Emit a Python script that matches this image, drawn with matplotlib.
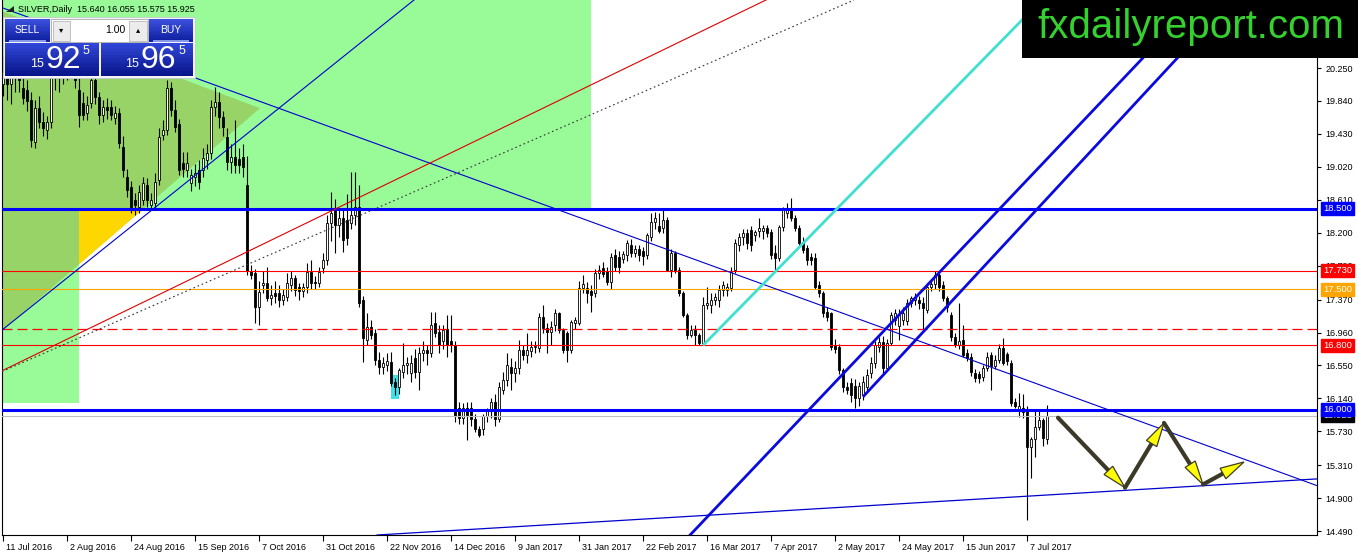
import matplotlib
matplotlib.use("Agg")
import matplotlib.pyplot as plt
from matplotlib.patches import Rectangle, Polygon
from matplotlib.lines import Line2D
from matplotlib.transforms import IdentityTransform, blended_transform_factory, ScaledTranslation
import numpy as np

plt.rcParams['font.family'] = ['Liberation Sans', 'DejaVu Sans']

# ---------------- data ----------------
opens = [
    20.05, 20.25, 20.05, 20.15, 20.25, 20.00, 19.98, 19.85, 19.33, 19.75,
    19.58, 19.48, 19.58, 20.13, 20.30, 20.20, 20.35, 20.40, 20.30, 19.98,
    19.81, 19.69, 19.81, 20.10, 19.89, 19.67, 19.77, 19.77, 19.63, 19.69,
    19.27, 18.90, 18.77, 18.61, 18.52, 18.61, 18.79, 18.55, 18.57, 18.86,
    19.42, 19.48, 20.00, 19.73, 19.55, 19.07, 18.98, 18.82, 18.89, 18.98,
    18.98, 19.11, 19.19, 19.77, 19.83, 19.64, 19.39, 19.08, 19.14, 19.12,
    19.14, 18.80, 17.73, 17.70, 17.28, 17.55, 17.58, 17.39, 17.45, 17.45,
    17.37, 17.40, 17.55, 17.64, 17.52, 17.48, 17.52, 17.71, 17.59, 17.57,
    17.76, 17.86, 18.32, 18.48, 18.30, 18.38, 18.36, 18.32, 18.42, 18.52,
    17.36, 16.87, 17.03, 16.95, 16.62, 16.53, 16.56, 16.59, 16.35, 16.28,
    16.47, 16.55, 16.46, 16.64, 16.47, 16.70, 16.74, 16.70, 17.08, 16.97,
    16.85, 17.00, 16.85, 16.80, 16.02, 15.90, 16.02, 16.02, 15.88, 15.76,
    15.76, 15.92, 15.98, 16.10, 15.88, 16.25, 16.37, 16.53, 16.46, 16.52,
    16.74, 16.68, 16.73, 16.78, 16.77, 17.15, 17.02, 16.97, 17.05, 17.20,
    16.99, 16.95, 16.74, 17.08, 17.08, 17.51, 17.51, 17.48, 17.45, 17.70,
    17.76, 17.73, 17.59, 17.92, 17.90, 17.88, 17.92, 18.05, 17.95, 18.00,
    17.98, 17.92, 18.15, 18.33, 18.28, 18.26, 18.36, 17.74, 17.95, 17.74,
    17.45, 17.18, 16.93, 16.99, 16.93, 16.83, 17.30, 17.30, 17.36, 17.37,
    17.49, 17.49, 17.51, 17.74, 18.05, 18.15, 18.20, 18.24, 18.17, 18.22,
    18.22, 18.26, 18.21, 17.95, 17.89, 18.27, 18.45, 18.48, 18.38, 18.26,
    18.08, 18.01, 17.90, 17.89, 17.55, 17.45, 17.21, 17.20, 16.80, 16.78,
    16.49, 16.28, 16.33, 16.30, 16.15, 16.18, 16.28, 16.46, 16.58, 16.78,
    16.84, 16.52, 16.83, 17.12, 17.04, 17.12, 17.10, 17.33, 17.36, 17.36,
    17.33, 17.24, 17.53, 17.56, 17.67, 17.55, 17.39, 17.18, 16.90, 16.80,
    16.87, 16.70, 16.66, 16.46, 16.44, 16.41, 16.52, 16.68, 16.54, 16.62,
    16.77, 16.69, 16.58, 16.10, 16.00, 16.02, 16.00, 15.54, 15.63, 15.78,
    15.87, 15.64,
]
highs = [
    20.40, 20.50, 20.30, 20.40, 20.35, 20.15, 20.10, 19.95, 19.85, 19.90,
    19.70, 19.65, 20.30, 20.40, 20.45, 20.50, 20.55, 20.60, 20.45, 20.15,
    19.95, 19.90, 20.30, 20.25, 19.95, 19.85, 19.88, 19.85, 19.78, 19.75,
    19.40, 19.00, 18.85, 18.70, 18.80, 18.90, 18.88, 18.70, 18.95, 19.50,
    19.60, 20.10, 20.08, 19.85, 19.62, 19.20, 19.20, 19.00, 19.05, 19.10,
    19.25, 19.30, 19.85, 20.01, 19.95, 19.72, 19.50, 19.30, 19.60, 19.25,
    19.30, 19.15, 17.80, 17.75, 17.60, 17.72, 17.78, 17.55, 17.60, 17.55,
    17.50, 17.70, 17.72, 17.68, 17.58, 17.58, 17.82, 17.86, 17.66, 17.78,
    17.95, 18.42, 18.71, 18.62, 18.50, 18.48, 18.68, 18.96, 18.96, 18.80,
    17.42, 17.20, 17.12, 17.00, 16.72, 16.65, 16.70, 16.72, 16.40, 16.52,
    16.83, 16.65, 16.68, 16.75, 16.78, 16.85, 16.80, 17.22, 17.22, 17.05,
    17.05, 17.18, 17.18, 16.85, 16.10, 16.08, 16.10, 16.10, 15.95, 15.80,
    15.95, 16.02, 16.15, 16.20, 16.35, 16.47, 16.70, 16.64, 16.60, 16.87,
    16.80, 16.95, 16.85, 16.85, 17.20, 17.30, 17.08, 17.10, 17.25, 17.22,
    17.02, 16.98, 17.12, 17.15, 17.60, 17.68, 17.59, 17.55, 17.75, 17.80,
    17.84, 17.78, 17.95, 18.00, 17.98, 17.98, 18.11, 18.12, 18.05, 18.05,
    18.02, 18.20, 18.45, 18.46, 18.45, 18.48, 18.40, 18.00, 17.98, 17.78,
    17.48, 17.20, 17.05, 17.05, 16.96, 17.40, 17.53, 17.45, 17.45, 17.55,
    17.60, 17.58, 17.78, 18.12, 18.20, 18.25, 18.25, 18.28, 18.24, 18.38,
    18.30, 18.30, 18.25, 18.05, 18.30, 18.52, 18.57, 18.63, 18.42, 18.30,
    18.15, 18.05, 17.95, 17.95, 17.60, 17.48, 17.28, 17.22, 16.88, 16.82,
    16.52, 16.35, 16.40, 16.38, 16.35, 16.42, 16.50, 16.65, 16.85, 16.90,
    16.92, 16.88, 17.22, 17.25, 17.25, 17.28, 17.38, 17.42, 17.45, 17.42,
    17.40, 17.58, 17.60, 17.72, 17.72, 17.60, 17.42, 17.22, 16.95, 17.33,
    17.05, 16.75, 16.70, 16.50, 16.48, 16.56, 16.72, 16.72, 16.68, 16.82,
    16.89, 16.72, 16.62, 16.15, 16.21, 16.20, 16.05, 15.66, 16.00, 16.00,
    15.90, 16.055,
]
lows = [
    19.90, 19.85, 19.80, 19.95, 19.95, 19.80, 19.72, 19.27, 19.25, 19.50,
    19.40, 19.37, 19.50, 19.98, 19.95, 20.05, 20.10, 20.20, 20.00, 19.52,
    19.60, 19.60, 19.75, 19.80, 19.55, 19.58, 19.62, 19.60, 19.55, 19.25,
    18.90, 18.65, 18.45, 18.42, 18.45, 18.55, 18.52, 18.48, 18.50, 18.80,
    19.35, 19.42, 19.65, 19.45, 18.92, 18.90, 18.90, 18.72, 18.78, 18.75,
    18.90, 19.00, 19.12, 19.65, 19.50, 19.40, 18.98, 18.95, 18.95, 18.95,
    18.90, 17.68, 17.62, 17.08, 17.05, 17.45, 17.35, 17.30, 17.33, 17.28,
    17.30, 17.35, 17.48, 17.42, 17.36, 17.40, 17.45, 17.50, 17.50, 17.52,
    17.70, 17.80, 18.10, 17.95, 18.15, 17.96, 18.05, 18.25, 18.30, 17.28,
    16.59, 16.80, 16.88, 16.55, 16.45, 16.45, 16.48, 16.30, 16.18, 16.20,
    16.40, 16.45, 16.35, 16.40, 16.25, 16.60, 16.55, 16.65, 16.90, 16.70,
    16.75, 16.66, 16.72, 15.85, 15.82, 15.82, 15.62, 15.80, 15.72, 15.66,
    15.68, 15.85, 15.90, 15.80, 15.85, 16.20, 16.30, 16.25, 16.35, 16.45,
    16.62, 16.58, 16.65, 16.70, 16.72, 16.95, 16.70, 16.80, 16.98, 16.95,
    16.70, 16.59, 16.70, 17.00, 17.05, 17.45, 17.33, 17.21, 17.40, 17.62,
    17.65, 17.55, 17.50, 17.72, 17.70, 17.82, 17.85, 17.90, 17.90, 17.85,
    17.80, 17.88, 18.10, 18.25, 18.20, 18.20, 17.72, 17.65, 17.70, 17.42,
    17.15, 16.88, 16.90, 16.80, 16.80, 16.80, 17.25, 17.20, 17.30, 17.28,
    17.42, 17.42, 17.48, 17.70, 17.98, 18.05, 18.00, 17.98, 18.10, 18.15,
    18.12, 18.15, 17.88, 17.74, 17.85, 18.22, 18.38, 18.35, 18.22, 18.02,
    17.95, 17.80, 17.80, 17.50, 17.40, 17.15, 17.10, 16.74, 16.70, 16.45,
    16.22, 16.20, 16.10, 16.02, 16.05, 16.12, 16.22, 16.40, 16.52, 16.72,
    16.45, 16.48, 16.80, 17.05, 16.87, 17.05, 17.05, 17.28, 17.30, 17.25,
    16.97, 17.20, 17.48, 17.50, 17.48, 17.35, 17.22, 16.85, 16.78, 16.76,
    16.65, 16.60, 16.42, 16.35, 16.33, 16.36, 16.48, 16.25, 16.50, 16.58,
    16.55, 16.55, 16.05, 16.02, 15.91, 15.90, 14.63, 15.15, 15.41, 15.75,
    15.55, 15.575,
]
closes = [
    20.20, 20.05, 20.15, 20.25, 20.10, 19.88, 19.84, 19.35, 19.75, 19.58,
    19.50, 19.58, 20.13, 20.30, 20.20, 20.35, 20.40, 20.30, 20.10, 19.67,
    19.67, 19.79, 20.10, 19.89, 19.67, 19.77, 19.73, 19.67, 19.69, 19.32,
    18.98, 18.73, 18.52, 18.55, 18.71, 18.82, 18.61, 18.61, 18.83, 19.39,
    19.48, 20.00, 19.73, 19.52, 18.98, 19.00, 19.07, 18.92, 18.94, 18.83,
    19.13, 19.19, 19.77, 19.83, 19.64, 19.52, 19.08, 19.14, 19.04, 19.04,
    19.02, 17.73, 17.67, 17.28, 17.47, 17.58, 17.39, 17.43, 17.41, 17.37,
    17.43, 17.57, 17.64, 17.49, 17.48, 17.52, 17.71, 17.57, 17.57, 17.71,
    17.86, 18.32, 18.45, 18.30, 18.38, 18.11, 18.14, 18.42, 18.52, 17.33,
    16.89, 17.03, 16.93, 16.62, 16.53, 16.58, 16.60, 16.33, 16.28, 16.49,
    16.56, 16.58, 16.58, 16.47, 16.70, 16.74, 16.70, 17.05, 16.95, 16.80,
    16.99, 16.80, 16.80, 15.92, 15.90, 16.02, 15.93, 15.88, 15.76, 15.69,
    15.92, 15.98, 16.10, 15.88, 16.28, 16.37, 16.56, 16.46, 16.52, 16.74,
    16.68, 16.74, 16.78, 16.79, 17.15, 17.01, 16.97, 17.03, 17.20, 16.99,
    16.74, 16.74, 17.09, 17.12, 17.51, 17.56, 17.45, 17.43, 17.70, 17.74,
    17.69, 17.59, 17.90, 17.77, 17.77, 17.94, 18.07, 17.95, 18.00, 17.93,
    17.91, 18.17, 18.33, 18.38, 18.22, 18.36, 17.74, 17.95, 17.74, 17.45,
    17.18, 16.93, 16.99, 16.93, 16.83, 17.30, 17.33, 17.37, 17.40, 17.49,
    17.55, 17.53, 17.71, 18.07, 18.15, 18.20, 18.07, 18.05, 18.21, 18.26,
    18.26, 18.20, 17.92, 17.89, 18.27, 18.48, 18.49, 18.38, 18.26, 18.07,
    17.99, 17.86, 17.86, 17.53, 17.45, 17.20, 17.15, 16.78, 16.76, 16.49,
    16.28, 16.25, 16.18, 16.15, 16.30, 16.35, 16.43, 16.58, 16.80, 16.84,
    16.52, 16.83, 17.18, 17.20, 17.18, 17.20, 17.33, 17.39, 17.40, 17.33,
    17.27, 17.53, 17.56, 17.68, 17.52, 17.39, 17.28, 16.90, 16.80, 16.85,
    16.68, 16.64, 16.47, 16.39, 16.39, 16.52, 16.66, 16.54, 16.62, 16.77,
    16.58, 16.60, 16.08, 16.04, 16.05, 15.97, 15.54, 15.63, 15.78, 15.87,
    15.65, 15.925,
]

date_labels = ["11 Jul 2016", "2 Aug 2016", "24 Aug 2016", "15 Sep 2016", "7 Oct 2016",
               "31 Oct 2016", "22 Nov 2016", "14 Dec 2016", "9 Jan 2017", "31 Jan 2017",
               "22 Feb 2017", "16 Mar 2017", "7 Apr 2017", "2 May 2017", "24 May 2017",
               "15 Jun 2017", "7 Jul 2017"]
date_bars = [0, 16, 32, 48, 64, 80, 96, 112, 128, 144, 160, 176, 192, 208, 224, 240, 256]

price_ticks = [20.250, 19.840, 19.430, 19.020, 18.610, 18.200, 17.790, 17.370,
               16.960, 16.550, 16.140, 15.730, 15.310, 14.900, 14.490]

level_prices = [18.500, 17.730, 17.500, 16.800, 16.000]
level_colors = ["#0000ff", "#ff0000", "#ffa500", "#ff0000", "#0000ff"]
level_widths = [2.2, 0.8, 0.8, 0.8, 2.2]
dashed_level = 17.0
bid_price = 15.925

# chart objects (bar index, price)
blue_up_line = [(0, 17.00), (102.75, 21.096)]
blue_down_line = [(0, 20.996), (328.75, 15.051)]
red_diag_line = [(0, 16.49), (190.75, 21.096)]
dotted_line = [(0, 16.48), (212.75, 21.096)]
cyan_ray = [(175, 16.80), (208.5, 18.50)]
channel_a = [(171.75, 14.44), (281.25, 20.18)]
channel_b_ray = [(215, 16.16), (293.5, 20.37)]
support_line = [(93, 14.44), (328.75, 15.14)]

green_zone_x = [-1, 147]
green_zone_p = [18.5, 21.5]
green_left_x = [-1, 19]
green_left_p = [16.08, 18.5]
triangle_x = [-1, 64.25, -1]
triangle_p = [20.97, 19.75, 16.95]
cyan_box_x = [97, 99]
cyan_box_p = [16.13, 16.43]

arrow_x = [263.75, 280.5, 290.25, 300.0, 310.25]
arrow_p = [15.90, 15.03, 15.835, 15.07, 15.35]

# ---------------- figure ----------------
W, H = 1358, 554
fig = plt.figure(figsize=(W / 100, H / 100), dpi=100)
fig.patch.set_facecolor("white")
ax = fig.add_axes([2 / W, 19 / H, 1315 / W, 535 / H])
ax.set_xlim(-0.25, 328.5)
ax.set_ylim(14.4415, 21.0958)
ax.set_facecolor("white")

# background zones
ax.add_patch(Rectangle((green_zone_x[0], green_zone_p[0]), green_zone_x[1] - green_zone_x[0],
                       green_zone_p[1] - green_zone_p[0], fc="#98FB98", ec="none", zorder=0.5))
ax.add_patch(Rectangle((green_left_x[0], green_left_p[0]), green_left_x[1] - green_left_x[0],
                       green_left_p[1] - green_left_p[0], fc="#98FB98", ec="none", zorder=0.5))
tri = list(zip(triangle_x, triangle_p))
ax.add_patch(Polygon(tri, closed=True, fc="#98D367", ec="none", zorder=0.6))
# part of triangle outside green zone (white background) -> gold
(bx0, bp0), (bx1, bp1) = tri[1], tri[2]
t_a = (bp0 - green_left_p[1]) / (bp0 - bp1)
i_cut = bx0 + t_a * (bx1 - bx0)
t_b = (bx0 - green_left_x[1]) / (bx0 - bx1)
p_cut = bp0 + t_b * (bp1 - bp0)
ax.add_patch(Polygon([(green_left_x[1], green_left_p[1]), (i_cut, green_left_p[1]),
                      (green_left_x[1], p_cut)], closed=True, fc="#FFD700", ec="none", zorder=0.7))
ax.add_patch(Rectangle((cyan_box_x[0], cyan_box_p[0]), cyan_box_x[1] - cyan_box_x[0],
                       cyan_box_p[1] - cyan_box_p[0], fc="#40E0E8", ec="none", zorder=0.8))

# candles
o = np.array(opens); h = np.array(highs); l = np.array(lows); c = np.array(closes)
idx = np.arange(len(c))
ax.vlines(idx, l, h, colors="black", lw=0.8, zorder=3)
bottoms = np.minimum(o, c)
heights = np.maximum(np.abs(c - o), 0.012)
bull = c >= o
ax.bar(idx[bull], heights[bull], bottom=bottoms[bull], width=0.72, color="white",
       edgecolor="black", linewidth=0.6, zorder=3.1)
ax.bar(idx[~bull], heights[~bull], bottom=bottoms[~bull], width=0.72, color="black",
       edgecolor="black", linewidth=0.6, zorder=3.1)

# horizontal levels
for p, col, lw in zip(level_prices, level_colors, level_widths):
    ax.axhline(p, color=col, lw=lw, zorder=4)
ax.axhline(dashed_level, color="#ff0000", lw=0.9, dashes=(8, 4), zorder=4)
ax.axhline(bid_price, color="#c0c0c0", lw=0.8, zorder=4)

# trend lines
def infinite(pts, **kw):
    ax.axline(pts[0], pts[1], **kw)

def ray(pts, **kw):
    (x0, y0), (x1, y1) = pts
    ax.plot([x0, x0 + 6 * (x1 - x0)], [y0, y0 + 6 * (y1 - y0)], **kw)

infinite(blue_up_line, color="#0000cc", lw=0.8, zorder=4)
infinite(blue_down_line, color="#0000cc", lw=0.8, zorder=4)
infinite(red_diag_line, color="#dd0000", lw=0.8, zorder=4)
infinite(dotted_line, color="#333333", lw=0.8, dashes=(1.5, 2.5), zorder=4)
ray(cyan_ray, color="#40E0D0", lw=2.0, zorder=4, solid_capstyle="butt")
infinite(channel_a, color="#0a0ae0", lw=2.0, zorder=4)
ray(channel_b_ray, color="#0a0ae0", lw=2.0, zorder=4, solid_capstyle="butt")
infinite(support_line, color="#0000cc", lw=0.9, zorder=4)

# scenario arrows
fig.canvas.draw()
disp = ax.transData.transform(np.column_stack([arrow_x, arrow_p]))
shaft_col = "#3b3a28"
for k in range(len(disp) - 1):
    a = disp[k]; b = disp[k + 1]
    u = (b - a) / np.hypot(*(b - a))
    nvec = np.array([-u[1], u[0]])
    L, wd = 24.0, 6.0
    base = b - L * u
    ax.add_line(Line2D([a[0], base[0] + 3 * u[0]], [a[1], base[1] + 3 * u[1]],
                       transform=IdentityTransform(), color=shaft_col, lw=3.0,
                       solid_capstyle="round", zorder=5))
    ax.add_patch(Polygon([b, base + wd * nvec, base - wd * nvec], closed=True,
                         transform=IdentityTransform(), fc="#FFFF00", ec=shaft_col,
                         lw=0.9, zorder=5.1))

# axes styling
for s in ["top"]:
    ax.spines[s].set_visible(False)
for s in ["left", "right", "bottom"]:
    ax.spines[s].set_color("black")
    ax.spines[s].set_linewidth(0.8)
ax.yaxis.tick_right()
ax.set_yticks(price_ticks)
ax.set_yticklabels([f"{v:.3f}" for v in price_ticks])
ax.tick_params(axis="y", length=3, width=0.8, pad=3, labelsize=6.5, direction="out")
ax.set_xticks(date_bars)
ax.set_xticklabels(date_labels, ha="left")
ax.tick_params(axis="x", length=4, width=0.8, pad=1.5, labelsize=6.5, direction="out")
shift = ScaledTranslation(2 / 72, 0, fig.dpi_scale_trans)
for lbl in ax.get_xticklabels():
    lbl.set_transform(lbl.get_transform() + shift)

# price label boxes on the axis
trans = blended_transform_factory(ax.transAxes, ax.transData)
ax.annotate(f"{bid_price:.3f}", xy=(1, bid_price), xycoords=trans, xytext=(6, 0),
            textcoords="offset pixels", va="center", ha="left", color="white", fontsize=6.8,
            bbox=dict(boxstyle="square,pad=0.22", fc="black", ec="black"),
            annotation_clip=False, zorder=10)
for p, col in zip(level_prices, level_colors):
    ax.annotate(f"{p:.3f}", xy=(1, p), xycoords=trans, xytext=(6, 0),
                textcoords="offset pixels", va="center", ha="left", color="white", fontsize=6.8,
                bbox=dict(boxstyle="square,pad=0.22", fc=col, ec=col),
                annotation_clip=False, zorder=11)

# ---------------- overlays (figure pixel coordinates) ----------------
def frect(x0, y0, x1, y1, z=20, **kw):
    r = Rectangle((x0 / W, 1 - y1 / H), (x1 - x0) / W, (y1 - y0) / H,
                  transform=fig.transFigure, zorder=z, **kw)
    fig.add_artist(r)

def ftext(x, y, s, z=22, **kw):
    fig.text(x / W, 1 - y / H, s, zorder=z, **kw)

def mix(c1, c2, t):
    a = np.array(matplotlib.colors.to_rgb(c1)); b = np.array(matplotlib.colors.to_rgb(c2))
    return tuple(a + (b - a) * t)

def grad_rect(x0, y0, x1, y1, ctop, cbot, n=14):
    for k in range(n):
        t = k / (n - 1)
        ya = y0 + (y1 - y0) * k / n
        yb = y0 + (y1 - y0) * (k + 1) / n + 0.6
        frect(x0, ya, x1, min(yb, y1), fc=mix(ctop, cbot, t), ec="none", z=20)

# logo
frect(1022, 0, 1358, 58, fc="black", ec="none", z=20)
ftext(1191, 38, "fxdailyreport.com", color="#35d12e", fontsize=29, ha="center", va="baseline")

# symbol caption
ftext(18, 9, "SILVER,Daily  15.640 16.055 15.575 15.925", color="black", fontsize=6.5,
      ha="left", va="center")
fig.add_artist(Polygon([(6 / W, 1 - 12 / H), (14 / W, 1 - 12 / H), (14 / W, 1 - 6 / H)],
                       closed=True, transform=fig.transFigure, fc="#202020", ec="none", zorder=21))

# one-click trading panel
frect(3, 17, 195, 78, fc="#f4f4f8", ec="#c8c8d0", lw=0.6, z=19)
grad_rect(5, 19, 50, 42, "#3a50dc", "#0e1ea0")
grad_rect(149, 19, 193, 42, "#3a50dc", "#0e1ea0")
frect(9, 40.5, 46, 41.5, fc="#8898e8", ec="none", z=21)
frect(153, 40.5, 189, 41.5, fc="#8898e8", ec="none", z=21)
ftext(27.5, 30, "SELL", color="white", fontsize=7.5, ha="center", va="center")
ftext(171, 30, "BUY", color="white", fontsize=7.5, ha="center", va="center")
frect(51, 19, 148, 42, fc="white", ec="#a8a8a8", lw=0.6, z=20)
frect(52.5, 20.5, 70, 40.5, fc="#ececec", ec="#b8b8b8", lw=0.6, z=21)
frect(129, 20.5, 146.5, 40.5, fc="#ececec", ec="#b8b8b8", lw=0.6, z=21)
ftext(61, 30, "\u25be", color="black", fontsize=6, ha="center", va="center",
      family=["DejaVu Sans"])
ftext(138, 30, "\u25b4", color="black", fontsize=6, ha="center", va="center",
      family=["DejaVu Sans"])
ftext(125, 30, "1.00", color="black", fontsize=7.5, ha="right", va="center")
grad_rect(5, 43, 99, 76, "#3046d6", "#08158a")
grad_rect(101, 43, 193, 76, "#3046d6", "#08158a")
ftext(37, 64, "15", color="white", fontsize=9, ha="center", va="center")
ftext(63.5, 60, "92", color="white", fontsize=23, ha="center", va="center")
ftext(86, 51, "5", color="white", fontsize=9, ha="center", va="center")
ftext(132, 64, "15", color="white", fontsize=9, ha="center", va="center")
ftext(158.5, 60, "96", color="white", fontsize=23, ha="center", va="center")
ftext(182, 51, "5", color="white", fontsize=9, ha="center", va="center")

fig.savefig("out.png", dpi=100, facecolor="white")
